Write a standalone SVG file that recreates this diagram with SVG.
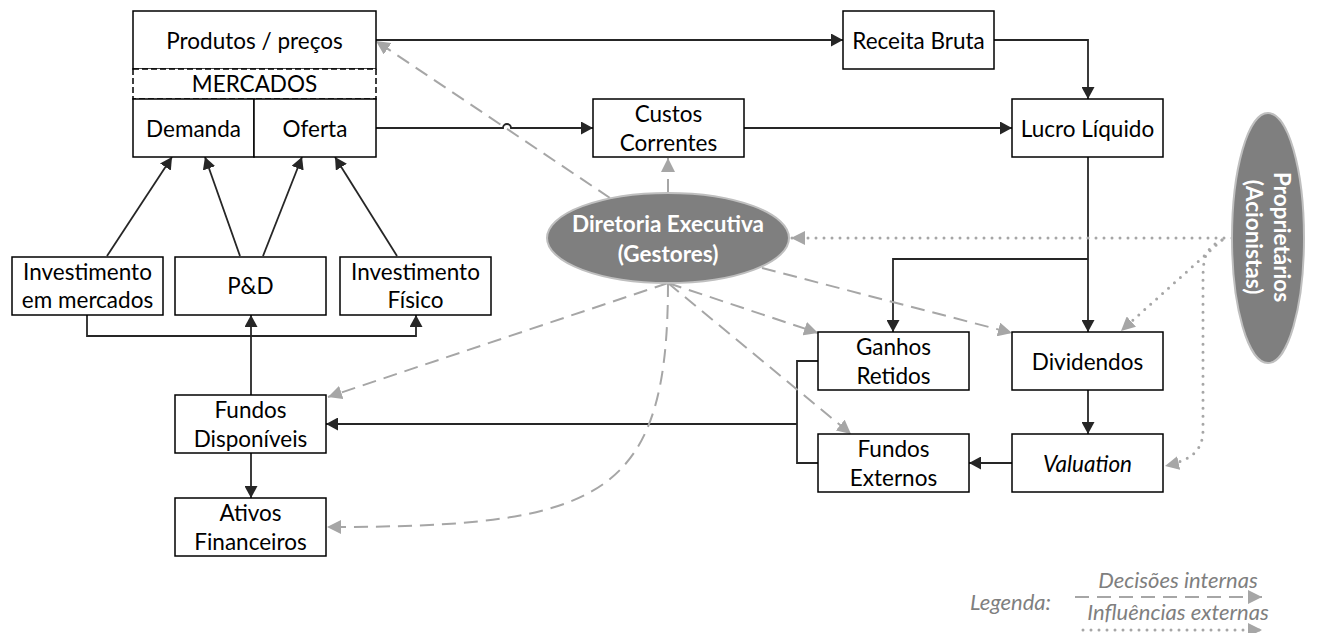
<svg xmlns="http://www.w3.org/2000/svg" width="1317" height="633" viewBox="0 0 1317 633">
<defs>
<marker id="ah" markerUnits="userSpaceOnUse" markerWidth="13" markerHeight="13" refX="12" refY="6.5" orient="auto"><path d="M0,0 L12,6.5 L0,13 z" fill="#262626"/></marker>
<marker id="ag" markerUnits="userSpaceOnUse" markerWidth="15" markerHeight="14" refX="14" refY="7" orient="auto"><path d="M0,0 L14,7 L0,14 z" fill="#a6a6a6"/></marker>
</defs>
<style>
.box{fill:#fff;stroke:#000;stroke-width:1.5}
.t{font-family:Lato,"Liberation Sans",sans-serif;font-size:22.5px;fill:#000;text-anchor:middle}
.w{font-family:Lato,"Liberation Sans",sans-serif;font-size:22.5px;font-weight:bold;fill:#fff;text-anchor:middle}
.lg{font-family:Lato,"Liberation Sans",sans-serif;font-size:22px;font-style:italic;fill:#7f7f7f}
.s{fill:none;stroke:#262626;stroke-width:1.8}
.d{fill:none;stroke:#a6a6a6;stroke-width:2;stroke-dasharray:14 8}
.o{fill:none;stroke:#a6a6a6;stroke-width:3;stroke-dasharray:0 8;stroke-linecap:round}
.el{fill:#7f7f7f;stroke:#bfbfbf;stroke-width:2}
</style>
<g id="connectors">
<path class="s" d="M376,40 H843" marker-end="url(#ah)"/>
<path class="s" d="M994,40 H1088 V99" marker-end="url(#ah)"/>
<path class="s" d="M376,128 H503 a4,4 0 0 1 8,0 H593" marker-end="url(#ah)"/>
<path class="s" d="M744,128 H1012" marker-end="url(#ah)"/>
<path class="s" d="M1088,157 V332" marker-end="url(#ah)"/>
<path class="s" d="M1088,259 H893 V332" marker-end="url(#ah)"/>
<path class="s" d="M1088,390 V434" marker-end="url(#ah)"/>
<path class="s" d="M1012,463 H969" marker-end="url(#ah)"/>
<path class="s" d="M818,361 H797 V463 H818"/>
<path class="s" d="M797,424 H326" marker-end="url(#ah)"/>
<path class="s" d="M251,395 V315" marker-end="url(#ah)"/>
<path class="s" d="M87,315 V336 H416 V315" marker-start="url(#ah)" marker-end="url(#ah)"/>
<path class="s" d="M251,453 V498" marker-end="url(#ah)"/>
<path class="s" d="M107,256 L172,157" marker-end="url(#ah)"/>
<path class="s" d="M240,256 L205,157" marker-end="url(#ah)"/>
<path class="s" d="M263,256 L302,157" marker-end="url(#ah)"/>
<path class="s" d="M397,256 L335,157" marker-end="url(#ah)"/>
<path class="d" d="M610,198 L376,41" marker-end="url(#ag)"/>
<path class="d" d="M668,193 V158" marker-end="url(#ag)"/>
<path class="d" d="M668,283 L328,397" marker-end="url(#ag)"/>
<path class="d" d="M668,283 C668,500 600,527 327,527" marker-end="url(#ag)"/>
<path class="d" d="M668,283 L818,333" marker-end="url(#ag)"/>
<path class="d" d="M668,283 L851,434" marker-end="url(#ag)"/>
<path class="d" d="M762,268 L1012,333" marker-end="url(#ag)"/>
<path class="o" d="M1232,238 H791" marker-end="url(#ag)"/>
<path class="o" d="M1222,240 L1121,331" marker-end="url(#ag)"/>
<path class="o" d="M1222,240 C1205,248 1203,258 1203,280 V430 C1203,450 1192,460 1165,466" marker-end="url(#ag)"/>
</g>
<g id="produtos"><rect class="box" x="133" y="11" width="243" height="58"/><text class="t" x="254.5" y="48.5">Produtos / preços</text></g>
<g id="mercados"><rect x="133" y="69" width="243" height="30" fill="#fff" stroke="#000" stroke-width="1.5" stroke-dasharray="6 3"/><text class="t" x="254.5" y="92">MERCADOS</text></g>
<g id="demanda"><rect class="box" x="133" y="99" width="121" height="58"/><text class="t" x="193.5" y="136.5">Demanda</text></g>
<g id="oferta"><rect class="box" x="254" y="99" width="122" height="58"/><text class="t" x="315" y="136.5">Oferta</text></g>
<g id="receita"><rect class="box" x="843" y="11" width="151" height="58"/><text class="t" x="918.5" y="48.5">Receita Bruta</text></g>
<g id="custos"><rect class="box" x="593" y="99" width="151" height="58"/><text class="t" x="668.5" y="122">Custos</text><text class="t" x="668.5" y="151">Correntes</text></g>
<g id="lucro"><rect class="box" x="1012" y="99" width="151" height="58"/><text class="t" x="1087.5" y="136.5">Lucro Líquido</text></g>
<g id="diretoria"><ellipse class="el" cx="668" cy="238" rx="121" ry="45"/><text class="w" x="668" y="232">Diretoria Executiva</text><text class="w" x="668" y="262">(Gestores)</text></g>
<g id="proprietarios"><ellipse class="el" cx="1268" cy="238" rx="36" ry="125"/><g transform="translate(1268,237) rotate(90)"><text class="w" x="0" y="-6">Proprietários</text><text class="w" x="0" y="22">(Acionistas)</text></g></g>
<g id="inv-mercados"><rect class="box" x="12" y="257" width="151" height="58"/><text class="t" x="87.5" y="280">Investimento</text><text class="t" x="87.5" y="308">em mercados</text></g>
<g id="pd"><rect class="box" x="175" y="257" width="151" height="58"/><text class="t" x="250.5" y="294">P&amp;D</text></g>
<g id="inv-fisico"><rect class="box" x="340" y="257" width="151" height="58"/><text class="t" x="415.5" y="280">Investimento</text><text class="t" x="415.5" y="308">Físico</text></g>
<g id="ganhos"><rect class="box" x="818" y="332" width="151" height="58"/><text class="t" x="893.5" y="355">Ganhos</text><text class="t" x="893.5" y="384">Retidos</text></g>
<g id="dividendos"><rect class="box" x="1012" y="332" width="151" height="58"/><text class="t" x="1087.5" y="369.5">Dividendos</text></g>
<g id="fundos-disp"><rect class="box" x="175" y="395" width="151" height="58"/><text class="t" x="250.5" y="418">Fundos</text><text class="t" x="250.5" y="447">Disponíveis</text></g>
<g id="fundos-ext"><rect class="box" x="818" y="434" width="151" height="58"/><text class="t" x="893.5" y="457">Fundos</text><text class="t" x="893.5" y="486">Externos</text></g>
<g id="valuation"><rect class="box" x="1012" y="434" width="151" height="58"/><text class="t" x="1087.5" y="471.5" font-style="italic">Valuation</text></g>
<g id="ativos"><rect class="box" x="175" y="498" width="151" height="58"/><text class="t" x="250.5" y="521">Ativos</text><text class="t" x="250.5" y="550">Financeiros</text></g>
<g id="legenda">
<text class="lg" x="1178" y="588" text-anchor="middle">Decisões internas</text>
<text class="lg" x="970" y="610">Legenda:</text>
<path class="d" d="M1075,597 H1262" marker-end="url(#ag)"/>
<text class="lg" x="1178" y="620" text-anchor="middle">Influências externas</text>
<path class="o" d="M1083,630 H1262" marker-end="url(#ag)"/>
</g>
</svg>
